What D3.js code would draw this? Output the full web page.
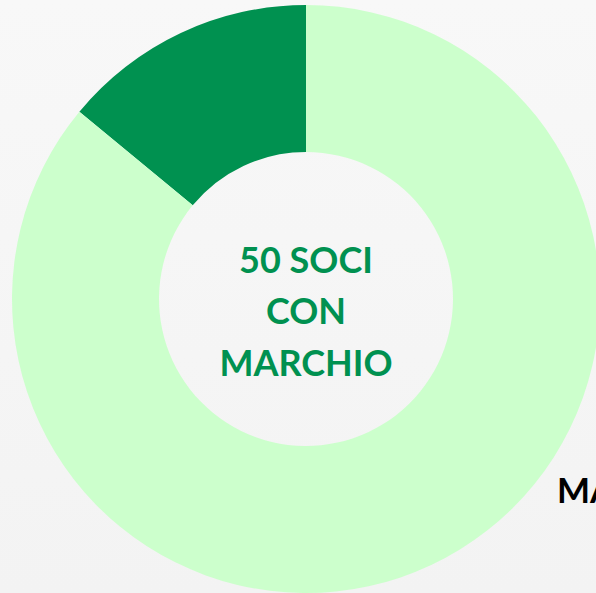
<!DOCTYPE html>
<html>
<head>
<meta charset="utf-8">
<style>
    html, body { margin: 0; padding: 0; }
    body { width: 596px; height: 593px; overflow: hidden; }
</style>
</head>
<body>
<svg id="container" width="596" height="593">
    <defs>
        <linearGradient id="bg" x1="0" y1="0" x2="0" y2="1">
            <stop offset="0" stop-color="#f8f8f8"></stop>
            <stop offset="1" stop-color="#f3f3f3"></stop>
        </linearGradient>
    </defs>
    <rect width="596" height="593" fill="url(#bg)"></rect>
    <g id="body"></g>
</svg>
<script src="https://cdn.jsdelivr.net/npm/d3@7"></script>
<script>
    // soci: con marchio vs the rest (label cut by the frame, only "MA" visible)
    let categories = ["CON MARCHIO", "MA"]
    let values = [50, 307]
    let colors = ["#009150", "#ccffcc"]
    let centerLines = ["50 SOCI", "CON", "MARCHIO"]

    let cx = 306, cy = 299
    let outerR = 294, innerR = 147

    let body = d3.select("#body").attr("transform", `translate(${cx},${cy})`)

    // dark slice sits counter-clockwise from 12 o'clock
    let pie = d3.pie().sort(null).startAngle(0).endAngle(-2 * Math.PI)
    let arc = d3.arc().innerRadius(innerR).outerRadius(outerR)

    body.selectAll("path")
        .data(pie(values))
        .enter()
        .append("path")
        .attr("d", arc)
        .attr("fill", (d, i) => colors[i])

    body.append("g")
        .selectAll("text")
        .data(centerLines)
        .enter()
        .append("text")
        .attr("x", 0)
        .attr("y", (d, i) => -39 + i * 51.5)
        .attr("dy", "0.35em")
        .attr("text-anchor", "middle")
        .attr("font-family", "Lato, 'Open Sans', sans-serif")
        .attr("font-weight", "bold")
        .attr("font-size", 36)
        .attr("fill", "#009150")
        .text(d => d)

    // label of the light slice, cut by the right edge
    body.append("text")
        .attr("x", 557 - cx)
        .attr("y", 503 - cy)
        .attr("font-family", "Lato, 'Open Sans', sans-serif")
        .attr("font-weight", "bold")
        .attr("font-size", 35)
        .attr("fill", "#000")
        .text(categories[1])
</script>
</body>
</html>
